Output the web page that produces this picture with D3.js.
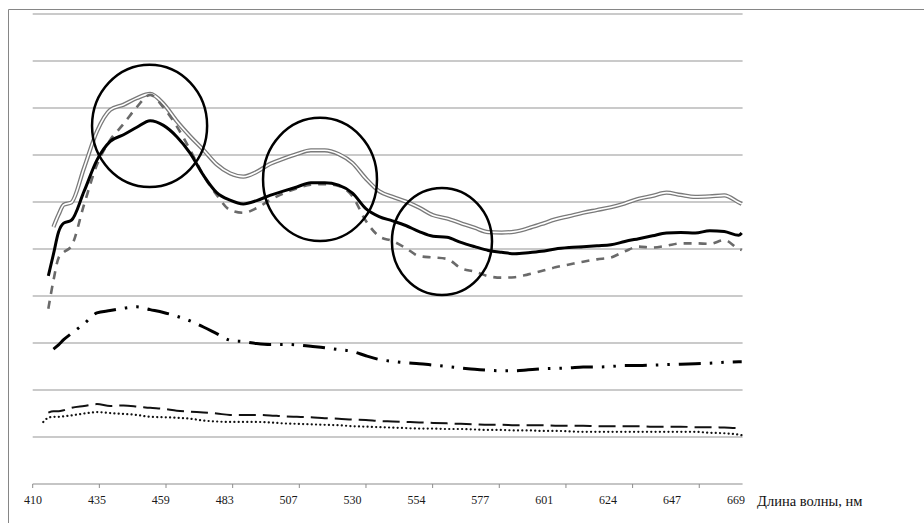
<!DOCTYPE html>
<html>
<head>
<meta charset="utf-8">
<script src="https://cdn.jsdelivr.net/npm/d3@7"></script>
<style>
  html, body { margin: 0; padding: 0; background: #fff; }
  svg { display: block; }
</style>
</head>
<body>
<svg id="chart" width="924" height="523"></svg>
<script>
// ---- data ----
const tickLabels = [410, 435, 459, 483, 507, 530, 554, 577, 601, 624, 647, 669];
const wavelength = [414, 416, 418, 420, 422, 425, 430, 435, 440, 445, 450, 455, 460, 465, 470, 475, 480, 485, 490, 495, 500, 505, 510, 515, 520, 525, 530, 535, 540, 545, 550, 555, 560, 565, 570, 575, 580, 585, 590, 595, 600, 605, 610, 615, 620, 625, 630, 635, 640, 645, 650, 655, 660, 665, 670, 671];
const seriesDouble = [null, null, 5.47, 5.73, 5.94, 5.99, 6.73, 7.50, 7.96, 8.07, 8.21, 8.30, 8.09, 7.72, 7.40, 7.11, 6.80, 6.61, 6.54, 6.64, 6.81, 6.92, 7.02, 7.10, 7.10, 7.02, 6.83, 6.50, 6.23, 6.11, 6.01, 5.88, 5.72, 5.65, 5.55, 5.45, 5.36, 5.35, 5.37, 5.44, 5.53, 5.63, 5.70, 5.77, 5.83, 5.89, 5.97, 6.07, 6.13, 6.20, 6.15, 6.11, 6.12, 6.14, 5.99, 5.96];
const seriesSolid = [null, 4.43, 4.89, 5.36, 5.55, 5.61, 6.23, 6.89, 7.29, 7.43, 7.59, 7.73, 7.63, 7.39, 7.04, 6.57, 6.20, 6.04, 5.96, 6.03, 6.14, 6.23, 6.32, 6.41, 6.41, 6.36, 6.19, 5.86, 5.69, 5.60, 5.50, 5.37, 5.27, 5.25, 5.14, 5.05, 4.97, 4.93, 4.90, 4.92, 4.95, 5.00, 5.03, 5.05, 5.07, 5.09, 5.16, 5.22, 5.28, 5.34, 5.35, 5.34, 5.39, 5.37, 5.29, 5.34];
const seriesDashedGray = [null, 3.73, 4.33, 4.81, 4.93, 5.06, 5.95, 6.79, 7.32, 7.66, 8.02, 8.28, 8.01, 7.61, 7.11, 6.57, 6.15, 5.83, 5.77, 5.87, 6.04, 6.18, 6.29, 6.37, 6.38, 6.34, 6.12, 5.60, 5.27, 5.17, 5.02, 4.85, 4.82, 4.79, 4.59, 4.52, 4.42, 4.39, 4.40, 4.46, 4.53, 4.61, 4.67, 4.73, 4.78, 4.82, 4.95, 5.05, 5.03, 5.07, 5.12, 5.12, 5.11, 5.19, 5.00, 4.98];
const seriesDashDot = [null, null, 2.87, 2.96, 3.07, 3.20, 3.41, 3.64, 3.69, 3.74, 3.77, 3.71, 3.65, 3.57, 3.47, 3.34, 3.20, 3.06, 3.03, 2.99, 2.97, 2.97, 2.96, 2.93, 2.90, 2.86, 2.82, 2.73, 2.65, 2.61, 2.58, 2.56, 2.53, 2.50, 2.47, 2.44, 2.42, 2.41, 2.41, 2.43, 2.45, 2.46, 2.47, 2.49, 2.49, 2.50, 2.52, 2.52, 2.53, 2.54, 2.55, 2.56, 2.57, 2.59, 2.60, 2.60];
const seriesLongDash = [null, 1.52, 1.55, 1.55, 1.57, 1.62, 1.66, 1.70, 1.66, 1.67, 1.65, 1.62, 1.60, 1.56, 1.54, 1.52, 1.50, 1.47, 1.47, 1.47, 1.46, 1.44, 1.43, 1.42, 1.40, 1.39, 1.37, 1.36, 1.34, 1.33, 1.32, 1.31, 1.30, 1.29, 1.28, 1.27, 1.26, 1.26, 1.25, 1.25, 1.25, 1.24, 1.24, 1.24, 1.23, 1.23, 1.23, 1.23, 1.22, 1.22, 1.22, 1.21, 1.21, 1.20, 1.19, 1.19];
const seriesDotted = [1.32, 1.41, 1.43, 1.43, 1.44, 1.46, 1.50, 1.53, 1.51, 1.49, 1.47, 1.43, 1.42, 1.41, 1.39, 1.35, 1.33, 1.32, 1.32, 1.32, 1.31, 1.29, 1.28, 1.27, 1.26, 1.25, 1.23, 1.22, 1.21, 1.20, 1.19, 1.18, 1.18, 1.17, 1.17, 1.16, 1.15, 1.15, 1.14, 1.14, 1.13, 1.13, 1.12, 1.11, 1.11, 1.11, 1.11, 1.11, 1.11, 1.11, 1.11, 1.11, 1.09, 1.08, 1.05, 1.04];
// annotation ellipses: wavelength extent and value extent
const markNmStart = [433.1, 497.4, 544.8];
const markNmEnd = [476.4, 539.2, 581.4];
const markValTop = [8.92, 7.79, 6.30];
const markValBottom = [6.32, 5.17, 4.02];
const axisTitle = "Длина волны, нм";

// ---- layout ----
const svg = d3.select("#chart");
const plotLeft = 33, labelStep = 63.9, plotTop = 14, plotBottom = 484;
const axisEndNm = 671.3;
const tickIntervals = 10.65;

const x = d3.scaleLinear()
  .domain(tickLabels)
  .range(tickLabels.map((d, i) => plotLeft + i * labelStep));
const y = d3.scaleLinear().domain([0, 10]).range([plotBottom, plotTop]);

const axisStart = x(410) - 0.3, axisEnd = x(axisEndNm);

// outer frame (left and top)
svg.append("path")
  .attr("d", `M8.5,530 L8.5,9.5 L930,9.5`)
  .attr("fill", "none").attr("stroke", "#868686").attr("stroke-width", 1);

// gridlines
svg.append("g").selectAll("line")
  .data(d3.range(1, 11))
  .join("line")
  .attr("x1", axisStart).attr("x2", axisEnd)
  .attr("y1", d => y(d)).attr("y2", d => y(d))
  .attr("stroke", "#b8b8b8").attr("stroke-width", 1.3);

// x axis line and ticks
const ax = svg.append("g");
ax.append("line")
  .attr("x1", axisStart).attr("x2", axisEnd)
  .attr("y1", y(0)).attr("y2", y(0))
  .attr("stroke", "#8c8c8c").attr("stroke-width", 1.2);
const tickStep = (axisEnd - axisStart) / tickIntervals;
ax.selectAll("line.tick")
  .data(d3.range(0, 11))
  .join("line").attr("class", "tick")
  .attr("x1", d => axisStart + d * tickStep).attr("x2", d => axisStart + d * tickStep)
  .attr("y1", y(0)).attr("y2", y(0) + 4)
  .attr("stroke", "#8c8c8c").attr("stroke-width", 1);
ax.selectAll("text")
  .data(tickLabels)
  .join("text")
  .attr("x", d => x(d)).attr("y", 504)
  .attr("text-anchor", "middle")
  .attr("font-family", "'Liberation Serif', 'Times New Roman', serif")
  .attr("font-size", 12)
  .attr("fill", "#1a1a1a")
  .text(d => d);
svg.append("text")
  .attr("x", 757).attr("y", 506)
  .attr("font-family", "'Liberation Serif', 'Times New Roman', serif")
  .attr("font-size", 14.5)
  .attr("fill", "#111")
  .text(axisTitle);

// series
const pts = vals => wavelength.map((w, i) => [w, vals[i]]);
const line = d3.line()
  .defined(d => d[1] !== null)
  .x(d => x(d[0])).y(d => y(d[1]))
  .curve(d3.curveMonotoneX);

const g = svg.append("g").attr("fill", "none").attr("stroke-linejoin", "round");
g.append("path").attr("d", line(pts(seriesDotted)))
  .attr("stroke", "#111").attr("stroke-width", 2.2).attr("stroke-dasharray", "0.1,4.2").attr("stroke-linecap", "round");
g.append("path").attr("d", line(pts(seriesLongDash)))
  .attr("stroke", "#111").attr("stroke-width", 2).attr("stroke-dasharray", "17,7");
g.append("path").attr("d", line(pts(seriesDashDot)))
  .attr("stroke", "#000").attr("stroke-width", 3).attr("stroke-dasharray", "22,9,2.5,9,2.5,9");
g.append("path").attr("d", line(pts(seriesDouble)))
  .attr("stroke", "#7a7a7a").attr("stroke-width", 4.2);
g.append("path").attr("d", line(pts(seriesDouble)))
  .attr("stroke", "#ffffff").attr("stroke-width", 1.6);
g.append("path").attr("d", line(pts(seriesDashedGray)))
  .attr("stroke", "#6a6a6a").attr("stroke-width", 2.6).attr("stroke-dasharray", "8,7");
g.append("path").attr("d", line(pts(seriesSolid)))
  .attr("stroke", "#000").attr("stroke-width", 3);

// annotation ellipses
svg.append("g").selectAll("ellipse")
  .data(markNmStart.map((d, i) => i))
  .join("ellipse")
  .attr("cx", i => (x(markNmStart[i]) + x(markNmEnd[i])) / 2)
  .attr("cy", i => (y(markValTop[i]) + y(markValBottom[i])) / 2)
  .attr("rx", i => (x(markNmEnd[i]) - x(markNmStart[i])) / 2)
  .attr("ry", i => (y(markValBottom[i]) - y(markValTop[i])) / 2)
  .attr("fill", "none").attr("stroke", "#000").attr("stroke-width", 2.5);
</script>
</body>
</html>
